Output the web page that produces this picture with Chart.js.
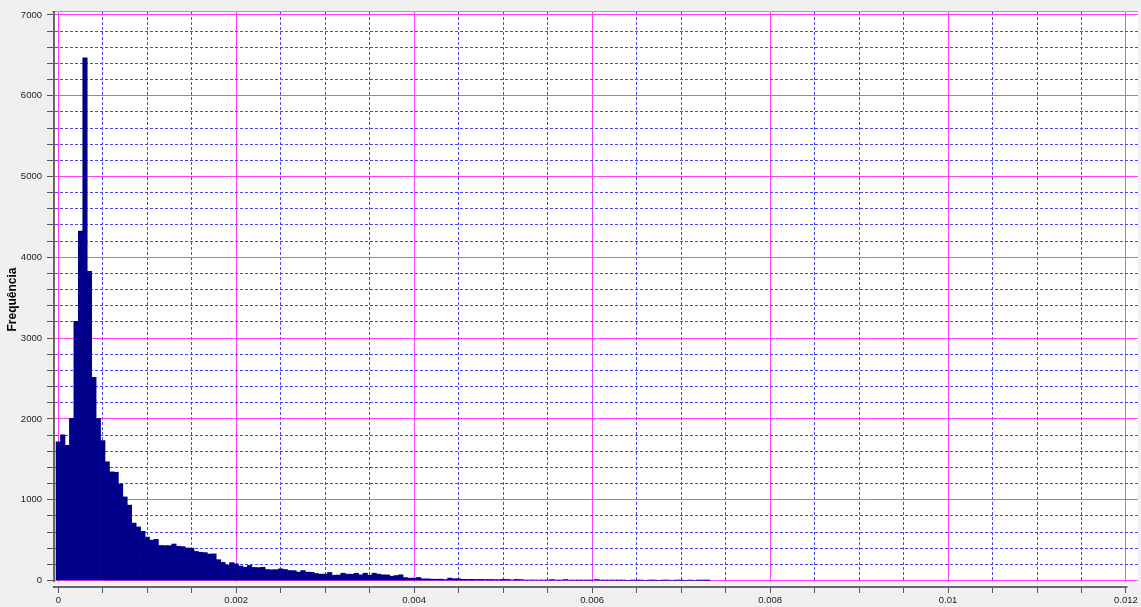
<!DOCTYPE html>
<html>
<head>
<meta charset="utf-8">
<script src="https://cdn.jsdelivr.net/npm/chart.js@4"></script>
<style>
  body { margin: 0; background: #f0f0f0; }
  canvas { display: block; }
</style>
</head>
<body>
<canvas id="hist" width="1141" height="607"></canvas>
<script>
// histogram bins: width 0.00005, bar i centred on i * binWidth
const binWidth = 0.00005;

// counts
const peakCounts = [1716, 1803, 1673, 2006, 3207, 4325, 6470, 3827, 2514, 2006,
  1733, 1470, 1345, 1340, 1196, 1035, 933, 711, 663, 609];
const bodyCounts = [537, 500, 510, 434, 432, 432, 452, 424, 420, 403,
  400, 360, 350, 346, 328, 330, 258, 226, 192, 222,
  207, 180, 165, 187, 162, 160, 164, 136, 133, 135,
  145, 137, 124, 122, 104, 124, 104, 102, 87, 79,
  80, 100, 66, 68, 91, 79, 78, 91, 71, 91,
  66, 91, 79, 71, 70, 54, 62, 71, 37, 29,
  30, 38, 21, 21, 17, 16, 17, 12, 30, 22, 22];
const tailCounts = [15, 14, 15, 13, 14, 12, 13, 12, 11, 15,
  14, 8, 14, 12, 6, 7, 5, 6, 5, 6,
  12, 6, 5, 12, 6, 5, 4, 5, 4, 6,
  12, 5, 4, 5, 4, 3, 4, 0, 4, 3,
  4, 0, 3, 4, 0, 3, 4, 0, 3, 3,
  0, 4, 0, 3, 3, 2];

const counts = peakCounts.concat(bodyCounts, tailCounts);

// axis ticks
const xMajor = [0, 0.002, 0.004, 0.006, 0.008, 0.01, 0.012];
const xMinorStep = 0.0005;
const yMajorStep = 1000;
const yMinorStep = 200;
const yMaxTick = 7000;

const points = counts.map((c, i) => ({ x: +(i * binWidth).toFixed(5), y: c }));

function isXMajor(v) {
  return xMajor.some((m) => Math.abs(m - v) < 1e-9);
}

Chart.defaults.font.family = "'Liberation Sans', Arial, sans-serif";

const plotBg = {
  id: "plotBg",
  beforeDraw(chart) {
    const { ctx, chartArea: a } = chart;
    ctx.save();
    ctx.fillStyle = "#f0f0f0";
    ctx.fillRect(0, 0, chart.width, chart.height);
    ctx.fillStyle = "#ffffff";
    const bottom = chart.scales.y.getPixelForValue(0) + 1.5;
    ctx.fillRect(a.left, a.top, a.right - a.left, bottom - a.top);
    ctx.fillStyle = "#a0a0a0";
    ctx.fillRect(a.left - 2, a.top - 1, a.right - a.left + 2, 1);
    ctx.restore();
  },
  beforeDatasetsDraw(chart) {
    // grey gap between the plot and the x axis
    const { ctx, chartArea: a } = chart;
    const top = chart.scales.y.getPixelForValue(0) + 1.5;
    ctx.save();
    ctx.fillStyle = "#f0f0f0";
    ctx.fillRect(a.left - 3, top, a.right - a.left + 3, a.bottom - 1 - top);
    const xEnd = chart.scales.x.getPixelForValue(0.012) + 1.5;
    ctx.fillRect(xEnd, top, chart.width - xEnd, a.bottom + 2 - top);
    ctx.restore();
  },
};

new Chart(document.getElementById("hist"), {
  type: "bar",
  data: {
    datasets: [
      {
        label: "Frequência",
        data: points,
        backgroundColor: "#00008b",
        borderWidth: 0,
        barPercentage: 1,
        categoryPercentage: 1,
        clip: 6,
      },
    ],
  },
  options: {
    responsive: false,
    animation: false,
    layout: { padding: { top: 12, right: 3, left: 0, bottom: 0 } },
    plugins: {
      legend: { display: false },
      tooltip: { enabled: false },
    },
    scales: {
      x: {
        type: "linear",
        offset: false,
        min: -0.0000483,
        max: 0.012135,
        afterFit: (scale) => { scale.height = 20; },
        afterBuildTicks: (scale) => {
          const t = [];
          for (let i = 0; i <= 24; i++) t.push({ value: +(i * xMinorStep).toFixed(4) });
          scale.ticks = t;
        },
        ticks: {
          autoSkip: false,
          maxRotation: 0,
          padding: 2,
          color: "#222",
          font: { size: 9.5 },
          callback: (v) => (isXMajor(v) ? String(+v.toFixed(4)) : ""),
        },
        grid: {
          offset: false,
          color: (c) => (c.tick && isXMajor(c.tick.value) ? "#ff40ff" : "#4646ff"),
          lineWidth: 1,
          tickLength: 6,
          tickColor: "#555",
        },
        border: {
          color: "#666",
          width: 2,
          dash: (c) => (c.tick && !isXMajor(c.tick.value) ? [3, 2] : []),
        },
      },
      y: {
        type: "linear",
        min: -80,
        max: 7036,
        afterFit: (scale) => { scale.width = 54; },
        afterBuildTicks: (scale) => {
          const t = [];
          for (let v = 0; v <= yMaxTick; v += yMinorStep) t.push({ value: v });
          scale.ticks = t;
        },
        ticks: {
          autoSkip: false,
          padding: 5,
          color: "#222",
          font: { size: 9.5 },
          callback: (v) => (v % yMajorStep === 0 ? String(v) : ""),
        },
        grid: {
          color: (c) => (c.tick && c.tick.value % yMajorStep === 0 ? "#ff40ff" : "#4646ff"),
          lineWidth: 1,
          tickLength: 7,
          tickColor: "#555",
        },
        border: {
          color: "#666",
          width: 2,
          dash: (c) => (c.tick && c.tick.value % yMajorStep !== 0 ? [3, 2] : []),
        },
        title: {
          display: true,
          text: "Frequência",
          color: "#000",
          font: { size: 12, weight: "bold" },
          padding: { top: 5, bottom: 0 },
        },
      },
    },
  },
  plugins: [plotBg],
});
</script>
</body>
</html>
